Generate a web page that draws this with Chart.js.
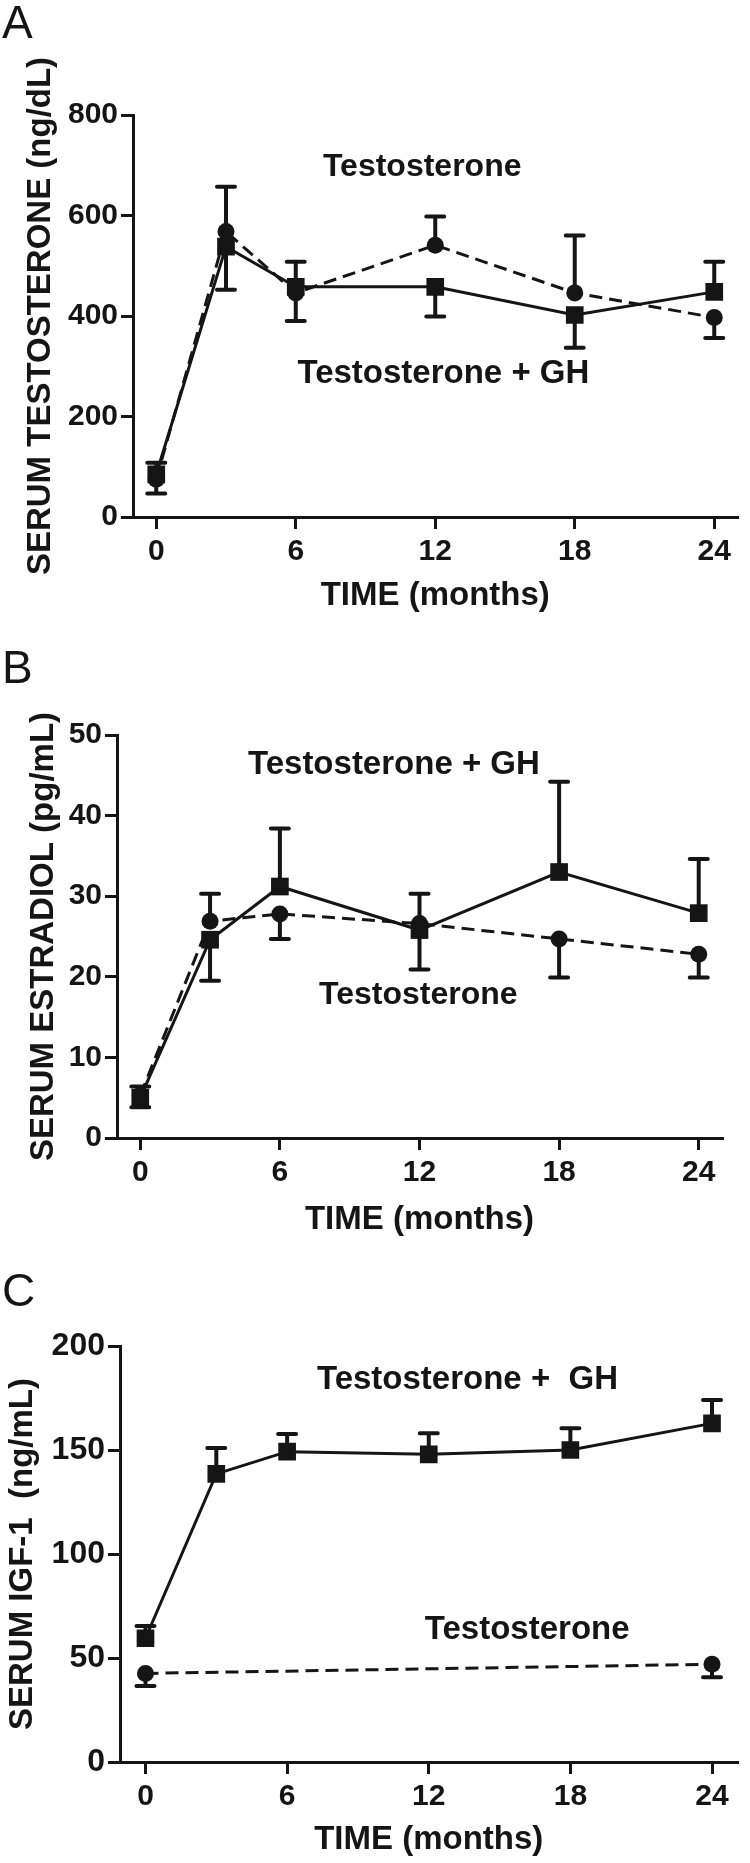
<!DOCTYPE html>
<html>
<head>
<meta charset="utf-8">
<script src="https://cdn.jsdelivr.net/npm/chart.js@4.4.1/dist/chart.umd.min.js"></script>
<style>
  body { margin: 0; background: #fff; }
  .panel { width: 750px; height: 621px; }
  canvas { display: block; }
</style>
</head>
<body>
<div class="panel"><canvas id="chartA" width="750" height="621"></canvas></div>
<div class="panel"><canvas id="chartB" width="750" height="621"></canvas></div>
<div class="panel"><canvas id="chartC" width="750" height="621"></canvas></div>
<script>
// time points (months) and the ticks shown on the x axis
const months = [0, 3, 6, 12, 18, 24];
const monthTicks = [0, 6, 12, 18, 24];

// A - serum testosterone (ng/dL)
const testoT    = [75, 568, 446, 541, 446, 397];
const testoTHi  = [0, 89, 0, 57, 114, 0];
const testoTLo  = [28, 0, 56, 0, 0, 41];
const testoGH   = [85, 538, 458, 458, 402, 448];
const testoGHHi = [23, 0, 50, 0, 0, 60];
const testoGHLo = [0, 86, 0, 59, 65, 0];

// B - serum estradiol (pg/mL)
const estT    = [5.3, 26.9, 27.8, 26.6, 24.7, 22.8];
const estTHi  = [1.1, 3.4, 0, 3.7, 0, 0];
const estTLo  = [0, 0, 3.1, 0, 4.8, 2.9];
const estGH   = [5.0, 24.6, 31.2, 25.8, 33.0, 27.9];
const estGHHi = [0, 0, 7.2, 0, 11.2, 6.7];
const estGHLo = [1.2, 5.1, 0, 4.9, 0, 0];

// C - serum IGF-1 (ng/mL); testosterone only measured at 0 and 24
const igfT    = [42.6, null, null, null, null, 47];
const igfTHi  = [0, 0, 0, 0, 0, 0];
const igfTLo  = [6.1, 0, 0, 0, 0, 6.3];
const igfGH   = [59.5, 138.5, 149.2, 147.9, 150, 162.8];
const igfGHHi = [5.9, 12.5, 8.5, 10.1, 10.4, 11.2];
const igfGHLo = [0, 0, 0, 0, 0, 0];

const INK = '#151515';
const FONT = "'Liberation Sans', Arial, sans-serif";

// error bars, one-sided, drawn from dataset.errHi / dataset.errLo
const errorBars = {
  id: 'errorBars',
  afterDatasetsDraw(chart) {
    const ctx = chart.ctx;
    const y = chart.scales.y;
    ctx.save();
    ctx.strokeStyle = INK;
    ctx.lineWidth = 4;
    ctx.lineCap = 'round';
    chart.data.datasets.forEach((ds, di) => {
      const meta = chart.getDatasetMeta(di);
      ds.data.forEach((p, i) => {
        if (p.y == null) return;
        const px = meta.data[i].x;
        const py = y.getPixelForValue(p.y);
        [ds.errHi[i], -ds.errLo[i]].forEach(e => {
          if (!e) return;
          const ey = y.getPixelForValue(p.y + e);
          ctx.beginPath();
          ctx.moveTo(px, py);
          ctx.lineTo(px, ey);
          ctx.moveTo(px - 9, ey);
          ctx.lineTo(px + 9, ey);
          ctx.stroke();
        });
      });
    });
    ctx.restore();
  }
};

// panel letter and the curve captions
const panelText = {
  id: 'panelText',
  afterDraw(chart, args, opts) {
    const ctx = chart.ctx;
    ctx.save();
    ctx.fillStyle = INK;
    ctx.font = '46px ' + FONT;
    ctx.textBaseline = 'alphabetic';
    ctx.textAlign = 'left';
    ctx.fillText(opts.letter, 2, opts.letterY);
    ctx.textAlign = 'center';
    ctx.textBaseline = 'middle';
    opts.notes.forEach(n => {
      ctx.font = 'bold ' + n.size + 'px ' + FONT;
      ctx.fillText(n.text, chart.scales.x.getPixelForValue(n.x), chart.scales.y.getPixelForValue(n.y));
    });
    ctx.restore();
  }
};

function points(vals) {
  return months.map((m, i) => ({ x: m, y: vals[i] }));
}

function makeChart(id, o) {
  const H = 621;
  const axisGrid = { drawOnChartArea: false, color: INK, lineWidth: 3, tickLength: 12 };
  const axisBorder = { color: INK, width: 3 };
  new Chart(document.getElementById(id), {
    type: 'line',
    data: {
      datasets: [
        {
          label: 'Testosterone',
          data: points(o.t), errHi: o.tHi, errLo: o.tLo,
          borderColor: INK, backgroundColor: INK, borderWidth: 3,
          borderDash: [13, 7], pointStyle: 'circle', pointRadius: 8.5,
          pointBorderWidth: 0, spanGaps: true
        },
        {
          label: 'Testosterone + GH',
          data: points(o.gh), errHi: o.ghHi, errLo: o.ghLo,
          borderColor: INK, backgroundColor: INK, borderWidth: 3,
          pointStyle: 'rect', pointRadius: 12.5, pointBorderWidth: 0
        }
      ]
    },
    options: {
      responsive: false,
      animation: false,
      devicePixelRatio: 1,
      layout: { padding: { left: o.padLeft, top: o.top, right: 750 - o.right, bottom: 0 } },
      plugins: {
        legend: { display: false },
        tooltip: { enabled: false },
        panelText: { letter: o.letter, letterY: o.letterY, notes: o.notes }
      },
      scales: {
        x: {
          type: 'linear', min: o.xMin, max: o.xMax,
          afterBuildTicks: s => { s.ticks = monthTicks.map(v => ({ value: v })); },
          afterFit: s => { s.height = H - o.bottom; },
          grid: axisGrid, border: axisBorder,
          ticks: { color: INK, padding: 8, font: { family: FONT, size: 30, weight: 'bold', lineHeight: 1 } },
          title: { display: true, text: 'TIME (months)', color: INK, padding: { top: 0, bottom: o.xTitlePad },
                   font: { family: FONT, size: 33, weight: 'bold', lineHeight: 1 } }
        },
        y: {
          min: 0, max: o.yMax,
          ticks: { stepSize: o.yStep, color: INK, padding: 3, font: { family: FONT, size: o.tickSize, weight: 'bold', lineHeight: 1 } },
          afterFit: s => { s.width = o.left - o.padLeft; },
          grid: axisGrid, border: axisBorder,
          title: { display: true, text: o.yTitle, color: INK, padding: 0,
                   font: { family: FONT, size: 33, weight: 'bold', lineHeight: 1 } }
        }
      }
    },
    plugins: [errorBars, panelText]
  });
}

makeChart('chartA', {
  letter: 'A', letterY: 38,
  t: testoT, tHi: testoTHi, tLo: testoTLo, gh: testoGH, ghHi: testoGHHi, ghLo: testoGHLo,
  padLeft: 24, left: 133, right: 738, top: 115, bottom: 517,
  xMin: -1, xMax: 25, yMax: 800, yStep: 200, tickSize: 30, xTitlePad: 9,
  yTitle: 'SERUM TESTOSTERONE (ng/dL)',
  notes: [
    { text: 'Testosterone', x: 11.44, y: 696, size: 32 },
    { text: 'Testosterone + GH', x: 12.35, y: 285, size: 33 }
  ]
});

makeChart('chartB', {
  letter: 'B', letterY: 62,
  t: estT, tHi: estTHi, tLo: estTLo, gh: estGH, ghHi: estGHHi, ghLo: estGHLo,
  padLeft: 27, left: 117, right: 722, top: 114, bottom: 517,
  xMin: -1, xMax: 25, yMax: 50, yStep: 10, tickSize: 30, xTitlePad: 6,
  yTitle: 'SERUM ESTRADIOL (pg/mL)',
  notes: [
    { text: 'Testosterone + GH', x: 10.9, y: 46.3, size: 33 },
    { text: 'Testosterone', x: 11.95, y: 17.7, size: 32 }
  ]
});

makeChart('chartC', {
  letter: 'C', letterY: 64,
  t: igfT, tHi: igfTHi, tLo: igfTLo, gh: igfGH, ghHi: igfGHHi, ghLo: igfGHLo,
  padLeft: 6, left: 120, right: 746, top: 104, bottom: 520,
  xMin: -1.08, xMax: 25.08, yMax: 200, yStep: 50, tickSize: 32, xTitlePad: 7,
  yTitle: 'SERUM IGF-1  (ng/mL)',
  notes: [
    { text: 'Testosterone +  GH', x: 13.64, y: 183.7, size: 33 },
    { text: 'Testosterone', x: 16.17, y: 63.5, size: 33 }
  ]
});
</script>
</body>
</html>
